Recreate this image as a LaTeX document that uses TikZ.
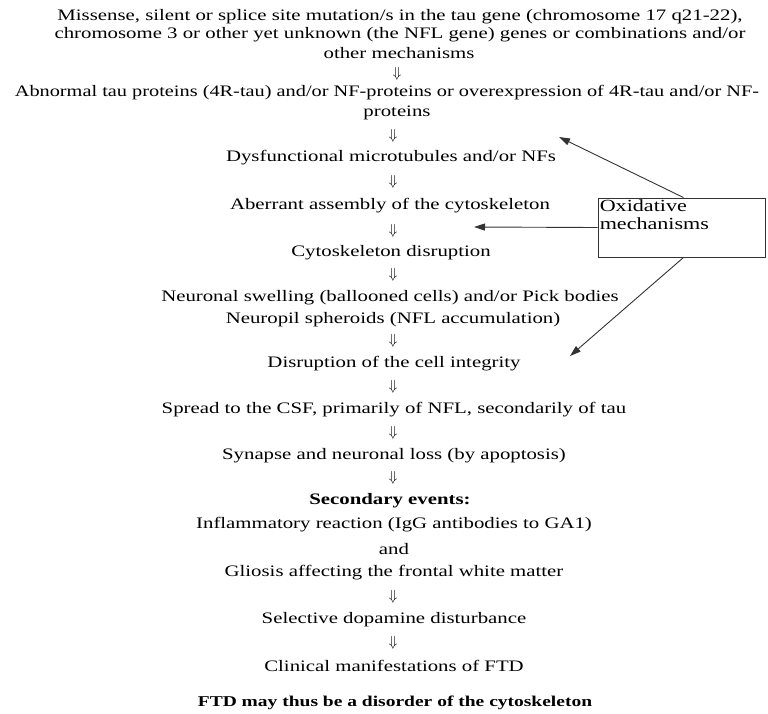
\documentclass[tikz,border=0pt]{standalone}
\usepackage{fontspec}
\setmainfont{Liberation Serif}
\usetikzlibrary{arrows.meta}
\newcommand\wtxt[1]{\scalebox{1.3}[1]{#1}}
\begin{document}
\begin{tikzpicture}[x=1pt,y=-1pt,
  txt/.style={inner sep=0pt,anchor=center,font=\fontsize{16}{18}\selectfont},
  dn/.style={inner sep=0pt,anchor=center,font=\fontsize{15}{16}\selectfont},
  conn/.style={draw=black!80,line width=0.9pt,-{Triangle[length=11pt,width=7pt]}}]
\useasboundingbox (0,0) rectangle (768,713);
\node[txt] (t1) at (400,17) {\wtxt{Missense, silent or splice site mutation/s in the tau gene (chromosome 17 q21-22),}};
\node[txt] (t2) at (400,35) {\wtxt{chromosome 3 or other yet unknown (the NFL gene) genes or combinations and/or}};
\node[txt] (t3) at (399,53) {\wtxt{other mechanisms}};
\node[dn] (a1) at (397,74) {$\Downarrow$};
\node[txt] (t4) at (387,93) {\scalebox{1.27}[1]{Abnormal tau proteins (4R-tau) and/or NF-proteins or overexpression of 4R-tau and/or NF-}};
\node[txt] (t5) at (397,113) {\wtxt{proteins}};
\node[dn] (a2) at (393,136) {$\Downarrow$};
\node[txt] (t6) at (391,158) {\wtxt{Dysfunctional microtubules and/or NFs}};
\node[dn] (a3) at (393,182) {$\Downarrow$};
\node[txt] (t7) at (390,206) {\wtxt{Aberrant assembly of the cytoskeleton}};
\node[dn] (a4) at (393,231) {$\Downarrow$};
\node[txt] (t8) at (391,253) {\wtxt{Cytoskeleton disruption}};
\node[dn] (a5) at (393,275) {$\Downarrow$};
\node[txt] (t9) at (390,298) {\wtxt{Neuronal swelling (ballooned cells) and/or Pick bodies}};
\node[txt] (t10) at (393,320) {\wtxt{Neuropil spheroids (NFL accumulation)}};
\node[dn] (a6) at (393,341) {$\Downarrow$};
\node[txt] (t11) at (394,364) {\wtxt{Disruption of the cell integrity}};
\node[dn] (a7) at (393,387) {$\Downarrow$};
\node[txt] (t12) at (394,410) {\wtxt{Spread to the CSF, primarily of NFL, secondarily of tau}};
\node[dn] (a8) at (393,433) {$\Downarrow$};
\node[txt] (t13) at (394,456) {\wtxt{Synapse and neuronal loss (by apoptosis)}};
\node[dn] (a9) at (393,478) {$\Downarrow$};
\node[txt,font=\fontsize{16}{18}\selectfont\bfseries] (t14) at (390,501) {\wtxt{Secondary events:}};
\node[txt] (t15) at (394,525) {\wtxt{Inflammatory reaction (IgG antibodies to GA1)}};
\node[txt] (t16) at (394,549) {\wtxt{and}};
\node[txt] (t17) at (394,573) {\wtxt{Gliosis affecting the frontal white matter}};
\node[dn] (a10) at (393,597) {$\Downarrow$};
\node[txt] (t18) at (394,620) {\wtxt{Selective dopamine disturbance}};
\node[dn] (a11) at (393,643) {$\Downarrow$};
\node[txt] (t19) at (394,666) {\wtxt{Clinical manifestations of FTD}};
\node[txt,font=\fontsize{15}{18}\selectfont\bfseries] (t20) at (395,703) {\wtxt{FTD may thus be a disorder of the cytoskeleton}};
% box
\node[draw=black!80,line width=0.9pt,minimum width=167pt,minimum height=59pt,inner sep=0pt] (box) at (681.5,227.5) {};
\node[inner sep=0pt,anchor=north west,align=left,font=\fontsize{17}{18}\selectfont] (boxt) at ([xshift=2pt,yshift=-2pt]box.north west) {\wtxt{Oxidative}\\\wtxt{mechanisms}};
\coordinate (e1) at (559,137);
\coordinate (e2) at (474,227);
\coordinate (e3) at (570,356);
\draw[conn] ([xshift=2pt]box.north) -- (e1);
\draw[conn] (box.west) -- (e2);
\draw[conn] ([xshift=2pt]box.south) -- (e3);
\end{tikzpicture}
\end{document}
